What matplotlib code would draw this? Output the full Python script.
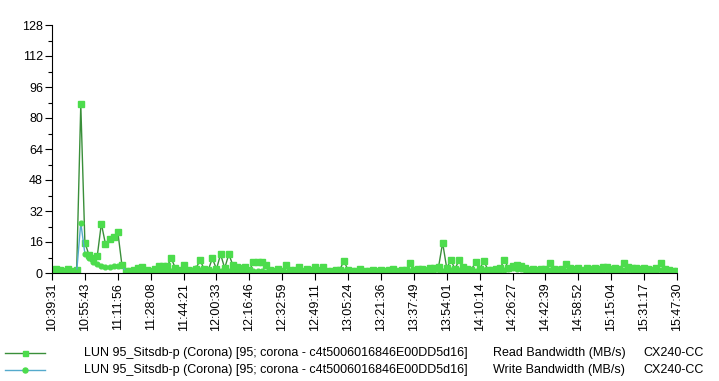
import matplotlib
matplotlib.use("Agg")
import matplotlib.pyplot as plt
from matplotlib.lines import Line2D
import numpy as np

# sample every ~2 min, one tick label every 8 samples
tick_labels = [
    "10:39:31", "10:55:43", "11:11:56", "11:28:08", "11:44:21", "12:00:33",
    "12:16:46", "12:32:59", "12:49:11", "13:05:24", "13:21:36", "13:37:49",
    "13:54:01", "14:10:14", "14:26:27", "14:42:39", "14:58:52", "15:15:04",
    "15:31:17", "15:47:30",
]

read_bw = [
    1.5, 2.0, 1.8, 1.2, 2.2, 1.0, 1.4, 87.0,
    15.6, 9.3, 7.5, 8.6, 25.5, 15.0, 17.5, 18.7,
    21.3, 4.2, 1.0, 0.8, 1.6, 2.4, 3.0, 1.8,
    1.2, 2.0, 3.5, 3.6, 3.4, 7.6, 2.5, 1.5,
    4.0, 1.8, 1.2, 2.2, 6.7, 2.0, 1.5, 7.6,
    2.0, 9.7, 2.5, 9.7, 4.0, 3.2, 2.8, 3.0,
    1.5, 5.5, 5.8, 5.6, 4.0, 1.5, 1.0, 2.0,
    1.2, 4.0, 1.5, 1.8, 3.3, 1.2, 2.0, 1.5,
    3.3, 1.4, 3.0, 1.2, 1.0, 1.5, 1.8, 6.2,
    1.5, 1.2, 1.0, 2.0, 1.2, 1.0, 1.5, 1.2,
    1.8, 1.0, 1.5, 2.0, 1.2, 1.6, 1.4, 5.0,
    1.8, 2.0, 2.2, 1.5, 2.5, 2.8, 3.0, 15.6,
    2.5, 6.7, 2.0, 6.7, 3.0, 2.2, 1.8, 5.5,
    2.0, 6.2, 1.8, 1.5, 2.0, 2.5, 6.7, 2.5,
    3.8, 4.0, 3.6, 2.5, 1.8, 2.0, 1.5, 2.2,
    2.0, 5.0, 2.2, 1.8, 2.0, 4.5, 2.5, 2.0,
    2.4, 1.8, 2.6, 2.2, 2.8, 2.0, 3.3, 3.0,
    2.2, 2.6, 2.0, 5.3, 3.0, 2.4, 2.8, 2.2,
    2.6, 2.0, 1.8, 2.4, 5.3, 2.0, 1.5, 1.2,
    0.8,
]

write_bw = [
    0.8, 1.0, 0.6, 0.9, 0.7, 1.0, 0.6, 26.0,
    10.0, 7.6, 5.8, 4.6, 3.5, 3.0, 3.3, 3.5,
    3.6, 4.0, 0.4, 0.5, 0.8, 1.0, 1.2, 0.8,
    0.6, 0.9, 1.0, 1.2, 0.8, 1.0, 0.7, 0.6,
    0.8, 1.0, 1.5, 2.5, 1.8, 1.0, 0.8, 0.9,
    1.2, 1.0, 1.4, 1.1, 1.6, 1.2, 0.8, 0.7,
    0.6, 0.9, 1.0, 0.8, 0.7, 0.5, 0.6, 0.8,
    0.9, 0.7, 0.6, 0.8, 1.0, 0.7, 0.6, 0.8,
    0.9, 0.6, 0.7, 0.8, 0.5, 0.6, 0.7, 0.9,
    0.6, 0.5, 0.7, 0.8, 0.6, 0.5, 0.7, 0.6,
    0.8, 0.6, 0.7, 0.9, 0.6, 0.8, 0.7, 1.0,
    0.8, 1.0, 1.1, 0.9, 1.2, 1.4, 1.6, 1.2,
    1.0, 1.3, 1.1, 1.4, 1.2, 1.0, 0.9, 1.2,
    1.0, 1.3, 1.1, 0.9, 1.2, 1.5, 1.8, 2.2,
    2.4, 2.2, 2.0, 1.6, 1.2, 1.0, 0.9, 1.1,
    1.0, 1.4, 1.2, 2.0, 1.4, 1.2, 1.0, 1.1,
    1.3, 1.0, 1.2, 1.4, 1.6, 1.2, 1.4, 1.8,
    1.6, 1.4, 1.2, 1.8, 1.6, 1.4, 1.2, 1.0,
    1.2, 1.0, 0.9, 1.1, 1.4, 1.0, 0.8, 0.6,
    0.5,
]

series_name = "LUN 95_Sitsdb-p (Corona) [95; corona - c4t5006016846E00DD5d16]"
metrics = ["Read Bandwidth (MB/s)", "Write Bandwidth (MB/s)"]
array_name = "CX240-CC"

read_line = "#3a8f3a"
write_line = "#55aacc"
marker_green = "#4cdc4c"

plt.rcParams["font.family"] = ["Liberation Sans", "DejaVu Sans"]

fig = plt.figure(figsize=(7.19, 3.81), dpi=100)
ax = fig.add_axes([52 / 719, (381 - 273) / 381, (677 - 52) / 719, (273 - 25) / 381])

x = np.arange(len(read_bw))
ax.plot(x, read_bw, color=read_line, lw=1.0, marker="s", ms=3.8,
        mfc=marker_green, mec=marker_green)
ax.plot(x, write_bw, color=write_line, lw=1.0, marker="o", ms=3.4,
        mfc=marker_green, mec=marker_green)

ax.set_xlim(0, len(read_bw) - 1)
ax.set_ylim(0, 128)
ax.set_yticks(np.arange(0, 129, 16))
ax.set_yticks(np.arange(0, 129, 8), minor=True)
ax.set_xticks(np.arange(0, len(read_bw), 8))
ax.set_xticklabels(tick_labels, rotation=90)
ax.tick_params(axis="both", direction="out", length=5, width=0.8,
               labelsize=9, colors="black")
ax.tick_params(axis="y", which="minor", length=3, width=0.8)
ax.tick_params(axis="x", pad=2)
ax.tick_params(axis="y", pad=1.5)
for side in ["top", "right"]:
    ax.spines[side].set_visible(False)
for side in ["left", "bottom"]:
    ax.spines[side].set_linewidth(0.8)

# legend rows at the bottom
rows = [(353, read_line, "s", metrics[0]), (370, write_line, "o", metrics[1])]
for ypx, lc, mk, metric in rows:
    yf = (381 - ypx) / 381
    fig.add_artist(Line2D([5 / 719, 45 / 719], [yf, yf], color=lc, lw=1.0))
    fig.add_artist(Line2D([25 / 719], [yf], marker=mk, ms=3.6,
                          mfc=marker_green, mec=marker_green, ls="none"))
    fig.text(84 / 719, yf, series_name, fontsize=9, va="center")
    fig.text(493 / 719, yf, metric, fontsize=9, va="center")
    fig.text(643 / 719, yf, array_name, fontsize=9, va="center")

fig.savefig("out.png", dpi=100)
